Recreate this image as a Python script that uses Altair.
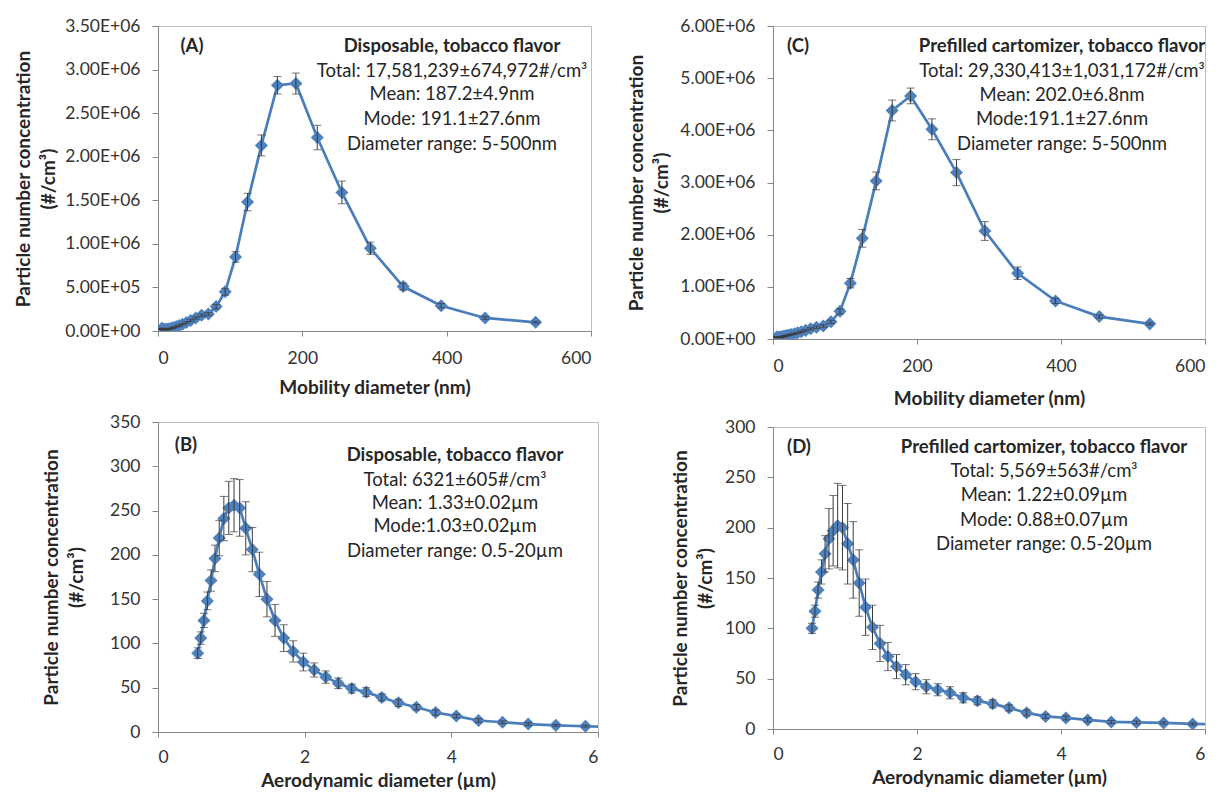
import altair as alt
import pandas as pd

FONT = "Lato"
BLUE_LINE = "#4A7EBB"
BLUE_FILL = "#4F81BD"
ERR_COL = "#3a3a3a"
TXT = "#262626"
LBL = 17.5     # tick label size
TTL = 19       # axis title size
ANN = 18.5     # annotation size

# ---------------- data ----------------
mob_diam = [5.23, 6.04, 6.98, 8.06, 9.31, 10.75, 12.41, 14.33, 16.55, 19.11, 22.07,
            25.48, 29.43, 33.98, 39.24, 45.32, 52.33, 60.43, 69.78, 80.58, 93.06,
            107.46, 124.1, 143.3, 165.5, 191.1, 220.7, 254.8, 294.3, 339.8, 392.4,
            453.2, 523.3]
a_conc = [30000, 24000, 19000, 17000, 16000, 17000, 19000, 22000, 27000, 33000, 40000,
          50000, 62000, 78000, 97000, 120000, 150000, 180000, 195000, 280000, 450000,
          850000, 1480000, 2130000, 2820000, 2840000, 2220000, 1590000, 950000, 510000,
          290000, 150000, 100000]
a_sd = [3000, 3000, 2500, 2500, 2500, 2500, 3000, 3000, 3500, 4000, 4500,
        5000, 6000, 7000, 8000, 10000, 12000, 14000, 16000, 25000, 40000,
        60000, 100000, 120000, 100000, 120000, 140000, 130000, 70000, 40000,
        25000, 15000, 10000]
c_conc = [40000, 35000, 30000, 30000, 32000, 36000, 42000, 50000, 58000, 66000, 75000,
          86000, 100000, 118000, 140000, 165000, 195000, 225000, 250000, 330000, 530000,
          1070000, 1930000, 3030000, 4380000, 4660000, 4020000, 3190000, 2070000, 1260000,
          730000, 430000, 290000]
c_sd = [5000, 5000, 4000, 4000, 4000, 4500, 5000, 6000, 7000, 8000, 9000,
        10000, 12000, 14000, 16000, 18000, 20000, 22000, 25000, 30000, 50000,
        90000, 170000, 170000, 200000, 150000, 200000, 250000, 180000, 120000,
        50000, 30000, 20000]

aero_diam = [0.542, 0.583, 0.626, 0.673, 0.723, 0.777, 0.835, 0.898, 0.965, 1.037,
             1.114, 1.197, 1.286, 1.382, 1.486, 1.596, 1.715, 1.843, 1.981, 2.129,
             2.288, 2.458, 2.642, 2.839, 3.051, 3.278, 3.523, 3.786, 4.068, 4.371,
             4.698, 5.048, 5.425, 5.829, 6.264]
b_conc = [89, 106, 126, 148, 171, 196, 219, 241, 253, 256, 253, 230, 206, 178, 150,
          126, 106, 91, 79, 70, 62, 55, 49, 45, 39, 33, 28, 22, 18, 13, 11, 9, 7.5,
          6.5, 5.5]
b_sd = [6, 7, 8, 10, 12, 15, 20, 25, 30, 30, 32, 30, 25, 25, 20, 18, 15, 12, 10, 8,
        7, 6, 5, 5, 4, 4, 3, 3, 2, 2, 1.5, 1.5, 1, 1, 1]
d_conc = [100, 117, 138, 156, 174, 189, 197, 202, 200, 184, 168, 145, 121, 101, 85,
          72, 62, 54, 47, 42, 39, 36, 31, 28, 25, 21, 16, 12.5, 11, 9, 7, 6.5, 6, 5,
          4.5]
d_sd = [5, 6, 8, 12, 18, 30, 35, 42, 42, 40, 38, 33, 28, 22, 18, 14, 12, 10, 8, 7,
        6, 6, 5, 4, 4, 3, 3, 2, 2, 2, 1.5, 1.5, 1, 1, 1]

mob_ticks = [0, 200, 400, 600]
aero_ticks = [0, 2, 4, 6]
a_yticks = [0, 500000, 1000000, 1500000, 2000000, 2500000, 3000000, 3500000]
c_yticks = [0, 1000000, 2000000, 3000000, 4000000, 5000000, 6000000]
b_yticks = [0, 50, 100, 150, 200, 250, 300, 350]
d_yticks = [0, 50, 100, 150, 200, 250, 300]

y_title = ["Particle number concentration", "(#/cm³)"]
mob_title = "Mobility diameter (nm)"
aero_title = "Aerodynamic diameter (µm)"

a_letter, a_head = "(A)", "Disposable, tobacco flavor"
a_stats = ["Total: 17,581,239±674,972#/cm³", "Mean: 187.2±4.9nm",
           "Mode: 191.1±27.6nm", "Diameter range: 5-500nm"]
c_letter, c_head = "(C)", "Prefilled cartomizer, tobacco flavor"
c_stats = ["Total: 29,330,413±1,031,172#/cm³", "Mean: 202.0±6.8nm",
           "Mode:191.1±27.6nm", "Diameter range: 5-500nm"]
b_letter, b_head = "(B)", "Disposable, tobacco flavor"
b_stats = ["Total: 6321±605#/cm³", "Mean: 1.33±0.02µm",
           "Mode:1.03±0.02µm", "Diameter range: 0.5-20µm"]
d_letter, d_head = "(D)", "Prefilled cartomizer, tobacco flavor"
d_stats = ["Total: 5,569±563#/cm³", "Mean: 1.22±0.09µm",
           "Mode: 0.88±0.07µm", "Diameter range: 0.5-20µm"]

SCI = ("datum.value == 0 ? '0.00E+00' : "
       "format(datum.value / pow(10, floor(log(datum.value)/LN10 + 1e-9)), '.2f') + 'E+' + "
       "(floor(log(datum.value)/LN10 + 1e-9) < 10 ? '0' : '') + "
       "floor(log(datum.value)/LN10 + 1e-9)")


def panel(xs, ys, sds, xdom, xticks, ydom, yticks, width, height, xtitle, sci,
          lab_ext, ttl_pad, x_lpad, x_tpad, letter, letter_pos, head, stats,
          head_x, text_ys, box):
    df = pd.DataFrame({"x": xs, "y": ys})
    df["lo"] = [v - e for v, e in zip(ys, sds)]
    df["hi"] = [v + e for v, e in zip(ys, sds)]

    xs_ = alt.Scale(domain=xdom, nice=False, zero=False)
    ys_ = alt.Scale(domain=ydom, nice=False)
    xaxis = alt.Axis(values=xticks, title=xtitle, labelPadding=x_lpad,
                     titlePadding=x_tpad, tickSize=5, format="d" if xdom[1] > 10 else "~g")
    yargs = dict(values=yticks, title=y_title, minExtent=lab_ext, maxExtent=lab_ext,
                 titlePadding=ttl_pad, labelPadding=12, tickSize=6, titleLineHeight=25)
    if sci:
        yargs["labelExpr"] = SCI
    yaxis = alt.Axis(**yargs)

    base = alt.Chart(df)
    line = base.mark_line(color=BLUE_LINE, strokeWidth=2.7, clip=True).encode(
        x=alt.X("x:Q", scale=xs_, axis=xaxis),
        y=alt.Y("y:Q", scale=ys_, axis=yaxis),
    )
    pts = base.mark_point(shape="diamond", filled=True, size=170, color=BLUE_FILL,
                          opacity=1, clip=True).encode(x="x:Q", y="y:Q")
    rule = base.mark_rule(color=ERR_COL, strokeWidth=1, clip=True).encode(
        x="x:Q", y="lo:Q", y2="hi:Q")
    cap_lo = base.mark_tick(orient="horizontal", size=8, thickness=1, color=ERR_COL,
                            clip=True).encode(x="x:Q", y="lo:Q")
    cap_hi = base.mark_tick(orient="horizontal", size=8, thickness=1, color=ERR_COL,
                            clip=True).encode(x="x:Q", y="hi:Q")

    one = pd.DataFrame({"k": [0]})
    layers = [line, pts, rule, cap_lo, cap_hi]
    layers.append(alt.Chart(one).mark_text(font=FONT, fontSize=ANN, fontWeight="bold",
                                           color=TXT, align="center", baseline="middle").encode(
        x=alt.value(letter_pos[0]), y=alt.value(letter_pos[1]), text=alt.value(letter)))
    layers.append(alt.Chart(one).mark_text(font=FONT, fontSize=ANN, fontWeight="bold",
                                           color=TXT, align="center", baseline="middle").encode(
        x=alt.value(head_x), y=alt.value(text_ys[0]), text=alt.value(head)))
    for s, ty in zip(stats, text_ys[1:]):
        layers.append(alt.Chart(one).mark_text(font=FONT, fontSize=ANN, color=TXT,
                                               align="center", baseline="middle").encode(
            x=alt.value(head_x), y=alt.value(ty), text=alt.value(s)))
    # invisible layout box (fixes the panel's outer bounds in the grid)
    layers.append(alt.Chart(one).mark_rule(strokeOpacity=0, strokeWidth=1).encode(
        x=alt.value(box[0]), y=alt.value(box[1]), x2=alt.value(box[2]), y2=alt.value(box[3])))
    return alt.layer(*layers).properties(width=width, height=height)


A = panel(mob_diam, a_conc, a_sd, [0, 600], mob_ticks, [0, 3500000], a_yticks,
          433, 305, mob_title, True, 92, 8, 13, 12,
          a_letter, (34, 20), a_head, a_stats, 294, [20, 45, 68, 93, 118],
          (-144, -12, 450, 382))
C = panel(mob_diam, c_conc, c_sd, [0, 600], mob_ticks, [0, 6000000], c_yticks,
          432, 313, mob_title, True, 98, 4, 13, 15,
          c_letter, (25, 20), c_head, c_stats, 289, [20, 45, 69, 93, 118],
          (-163, -12, 432, 382))
B = panel(aero_diam, b_conc, b_sd, [0, 6], aero_ticks, [0, 350], b_yticks,
          440, 310, aero_title, False, 49, 23, 11, 6,
          b_letter, (28, 23), b_head, b_stats, 297, [33, 58, 81, 104, 129],
          (-144, -12, 450, 310))
D = panel(aero_diam, d_conc, d_sd, [0, 6], aero_ticks, [0, 300], d_yticks,
          432, 302, aero_title, False, 49, 9, 11, 6,
          d_letter, (26, 20), d_head, d_stats, 271, [20, 44, 68, 93, 117],
          (-163, -17, 432, 302))

chart = alt.concat(A, C, B, D, columns=2, spacing=0, align="none").properties(
    padding={"left": 5, "top": 5, "right": 0, "bottom": 0},
    background="white",
).configure_axis(
    labelFont=FONT, titleFont=FONT, labelFontSize=LBL, titleFontSize=TTL,
    titleFontWeight="bold", labelColor="#333333", titleColor=TXT,
    domainColor="#868686", tickColor="#868686", grid=False,
).configure_view(
    stroke="#BFBFBF", strokeWidth=1
)

chart.save("out.html", embed_options={"renderer": "svg", "actions": False})
